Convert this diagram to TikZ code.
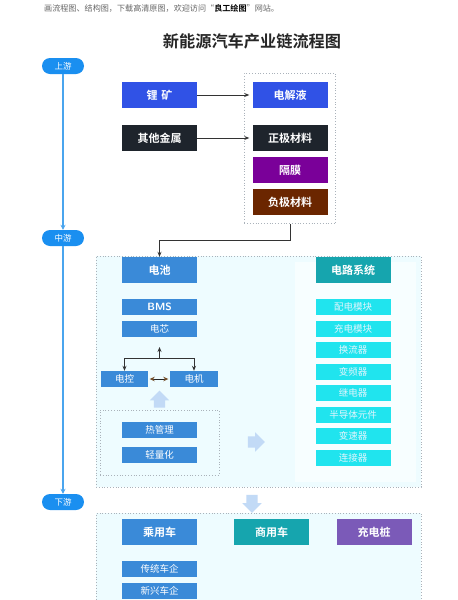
\documentclass[tikz,border=0pt]{standalone}
\usepackage{fontspec}
\setmainfont{Noto Sans CJK SC}[BoldFont=Noto Sans CJK SC Bold]
\usetikzlibrary{arrows.meta,shapes.arrows,fit}
\definecolor{royal}{RGB}{48,82,230}
\definecolor{darkbox}{RGB}{30,36,44}
\definecolor{purp}{RGB}{122,0,153}
\definecolor{brownb}{RGB}{107,38,0}
\definecolor{steel}{RGB}{58,138,216}
\definecolor{tealb}{RGB}{22,165,174}
\definecolor{cyanb}{RGB}{32,228,238}
\definecolor{purp2}{RGB}{123,90,184}
\definecolor{lightarr}{RGB}{194,218,246}
\definecolor{bigfill}{RGB}{238,252,255}
\definecolor{colfill}{RGB}{247,254,255}
\definecolor{dotgray}{RGB}{170,178,186}
\definecolor{pill}{RGB}{26,143,240}
\definecolor{tline}{RGB}{74,165,238}
\tikzset{
  bigbox/.style={minimum width=75pt,minimum height=26pt,inner sep=0pt,text=white,font=\bfseries\fontsize{11}{11}\selectfont},
  smallbox/.style={minimum width=75pt,minimum height=16pt,inner sep=0pt,text=white,font=\fontsize{9.5}{9.5}\selectfont},
  pillnode/.style={fill=pill,text=white,minimum width=42pt,minimum height=16pt,rounded corners=8pt,inner sep=0pt,font=\fontsize{8.5}{8.5}\selectfont},
  dotbox/.style={draw=dotgray,dotted,line width=0.8pt},
  conn/.style={draw=black!80,line width=0.8pt,-{Stealth[length=5pt,width=4pt]}},
  fatarrow/.style={single arrow,fill=lightarr,inner sep=5.5pt,single arrow head extend=4pt,draw=none}
}
\begin{document}
\begin{tikzpicture}[x=1pt,y=-1pt]
\clip (0,0) rectangle (458,600);
\fill[white] (0,0) rectangle (458,600);
% header
\node[anchor=west,inner sep=0pt,text=black!60,font=\fontsize{8.1}{8.1}\selectfont] (hdr) at (44,8) {画流程图、结构图，下载高清原图，欢迎访问“\textcolor{black}{\bfseries 良工绘图}”网站。};
\node[font=\bfseries\fontsize{16.2}{16.2}\selectfont,text=black!85] (title) at (252,41) {新能源汽车产业链流程图};
% timeline
\node[pillnode] (up) at (63,66) {上游};
\node[pillnode] (mid) at (63,238) {中游};
\node[pillnode] (down) at (63,502) {下游};
\draw[tline,line width=1.3pt,-{Stealth[length=5pt,width=5pt]}] (up.south) -- (mid.north);
\draw[tline,line width=1.3pt,-{Stealth[length=5pt,width=5pt]}] (mid.south) -- (down.north);
% upstream
\node[bigbox,fill=royal] (li) at (159.5,95) {锂\,\,矿};
\node[bigbox,fill=royal] (ele) at (290,95) {电解液};
\node[bigbox,fill=darkbox] (oth) at (159.5,138) {其他金属};
\node[bigbox,fill=darkbox] (pos) at (290,138) {正极材料};
\node[bigbox,fill=purp] (sep) at (290,170) {隔膜};
\node[bigbox,fill=brownb] (neg) at (290,202) {负极材料};
\node[dotbox,fit=(ele)(neg),inner xsep=8pt,inner ysep=8.5pt] (upbox) {};
\draw[conn,shorten >=3pt] (li.east) -- (ele.west);
\draw[conn,shorten >=3pt] (oth.east) -- (pos.west);
% midstream
\node[dotbox,fill=bigfill,minimum width=325pt,minimum height=231pt,inner sep=0pt] (midbox) at (258.5,371.5) {};
\fill[colfill] (295,262) rectangle (416,482);
\node[bigbox,fill=steel] (bat) at (159.5,270) {电池};
\draw[conn] (upbox.south) -- ++(0,16) -| (bat.north);
\node[smallbox,fill=steel,font=\bfseries\sffamily\fontsize{10.5}{10.5}\selectfont] (bms) at (159.5,307) {BMS};
\node[smallbox,fill=steel] (cell) at (159.5,329) {电芯};
\node[smallbox,fill=steel,minimum width=47pt] (ctrl) at (124.5,379) {电控};
\node[smallbox,fill=steel,minimum width=48pt] (motor) at (194,379) {电机};
\coordinate (jn) at (159.5,358);
\coordinate (jtop) at (159.5,347);
\draw[conn] (jn) -- (jtop);
\draw[conn] (jn) -| (ctrl.north);
\draw[conn] (jn) -| (motor.north);
\draw[draw=black!85,line width=0.9pt,{Stealth[length=5pt,width=4.5pt,color=brown!60!black]}-{Stealth[length=5pt,width=4.5pt,color=brown!60!black]},shorten <=1.5pt,shorten >=1.5pt] (ctrl.east) -- (motor.west);
\node[fatarrow,shape border rotate=90,minimum height=15pt] (uparr) at (159.5,402) {};
\node[dotbox,minimum width=119pt,minimum height=65pt,inner sep=0pt] (ltbox) at (159.5,442.5) {};
\node[smallbox,fill=steel] (heat) at (159.5,429.5) {热管理};
\node[smallbox,fill=steel] (lite) at (159.5,455) {轻量化};
\node[fatarrow,minimum height=17pt] (rarr) at (253.5,442) {};
\node[bigbox,fill=tealb] (circ) at (353,270) {电路系统};
\foreach \t [count=\i from 0] in {配电模块,充电模块,换流器,变频器,继电器,半导体元件,变速器,连接器}{
  \node[smallbox,fill=cyanb,text=white!88!cyan] (c\i) at (353,307+21.5*\i) {\t};
}
% downstream
\node[fatarrow,shape border rotate=270,minimum height=18pt] (darr) at (252,501) {};
\node[dotbox,fill=bigfill,anchor=north west,minimum width=325pt,minimum height=110pt,inner sep=0pt] (lowbox) at (96,513) {};
\node[bigbox,fill=steel] (car) at (159.5,532) {乘用车};
\node[bigbox,fill=tealb] (com) at (271.5,532) {商用车};
\node[bigbox,fill=purp2] (chg) at (374,532) {充电桩};
\node[smallbox,fill=steel] (trad) at (159.5,569) {传统车企};
\node[smallbox,fill=steel] (newc) at (159.5,590.5) {新兴车企};
\end{tikzpicture}
\end{document}
